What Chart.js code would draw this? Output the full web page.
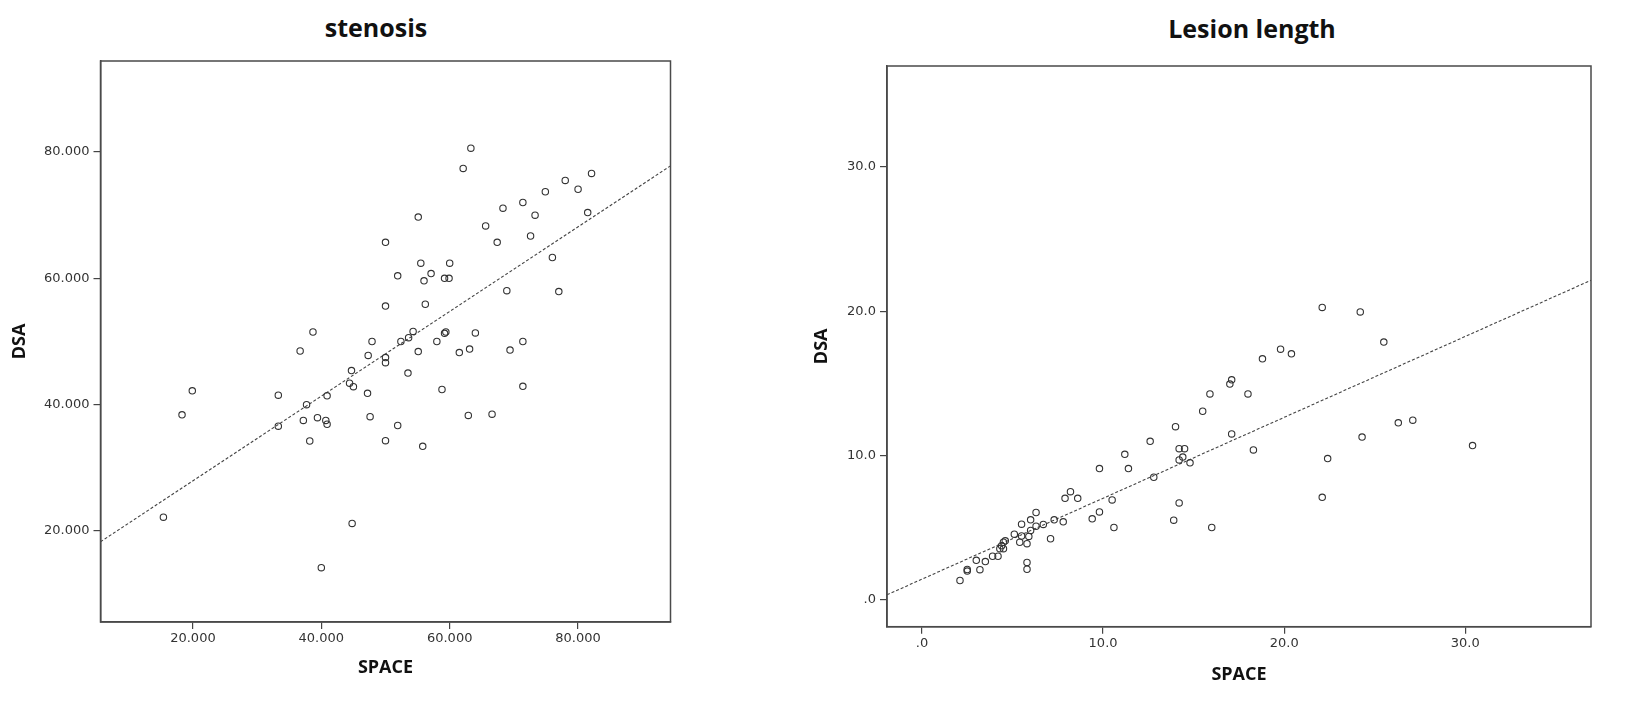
<!DOCTYPE html>
<html>
<head>
<meta charset="utf-8">
<script src="https://cdn.jsdelivr.net/npm/chart.js@4.4.1/dist/chart.umd.min.js"></script>
<style>
  html, body { margin: 0; padding: 0; background: #fff; overflow: hidden; }
  .titulo { position: absolute; font-family: 'Open Sans', sans-serif; font-weight: bold; font-size: 25px; line-height: 30px; color: #111; transform: translateX(-50%); white-space: nowrap; }
  canvas { position: absolute; top: 0; }
</style>
</head>
<body>
<div class="titulo" style="left:376px; top:12px">stenosis</div>
<div class="titulo" style="left:1252px; top:13px">Lesion length</div>
<canvas id="graficoEstenose" width="740" height="724" style="left:0"></canvas>
<canvas id="graficoLesao" width="868" height="724" style="left:760px"></canvas>
<script>
// stenosis: SPACE (x) vs DSA (y)
const estenoseSpace = [63.3, 62.1, 82.1, 78.0, 80.0, 74.9, 71.4, 68.3, 73.3, 81.5, 55.1, 65.6, 67.4, 72.6, 50.0, 76.0, 55.5, 60.0,
  51.9, 57.1, 56.0, 59.2, 59.9, 68.9, 77.0, 50.0, 56.2, 38.7, 59.2, 59.4, 54.3, 53.6, 52.4, 47.9, 58.0, 64.0, 71.4, 36.7,
  55.1, 61.5, 63.1, 69.4, 47.3, 50.0, 50.0, 44.7, 53.5, 44.4, 45.0, 71.4, 19.9, 58.8, 47.2, 33.3, 40.9, 37.7, 18.3, 62.9,
  66.6, 39.4, 37.2, 40.7, 47.6, 33.3, 40.9, 51.9, 38.2, 50.0, 55.8, 15.4, 44.8, 40.0];
const estenoseDsa = [80.6, 77.4, 76.6, 75.5, 74.1, 73.7, 72.0, 71.1, 70.0, 70.4, 69.7, 68.3, 65.7, 66.7, 65.7, 63.3, 62.4, 62.4,
  60.4, 60.75, 59.6, 60.0, 60.0, 58.05, 57.9, 55.6, 55.9, 51.5, 51.3, 51.5, 51.6, 50.6, 50.0, 50.0, 50.0, 51.35, 50.0, 48.5,
  48.4, 48.25, 48.8, 48.65, 47.8, 47.45, 46.65, 45.4, 45.0, 43.4, 42.85, 42.9, 42.2, 42.4, 41.8, 41.5, 41.4, 40.0, 38.4, 38.3,
  38.5, 37.95, 37.5, 37.5, 38.1, 36.6, 36.9, 36.7, 34.25, 34.3, 33.4, 22.2, 21.2, 14.2];
const estenoseRetaX = [5.6, 94.4];
const estenoseRetaY = [18.3, 77.8];
const estenoseTicks = [20, 40, 60, 80];
const estenoseRotulos = ['20.000', '40.000', '60.000', '80.000'];

// Lesion length: SPACE (x) vs DSA (y)
const lesaoSpace = [22.1, 24.2, 25.5, 19.8, 20.4, 18.8, 17.1, 17.0, 15.9, 18.0, 15.5, 14.0, 27.1, 26.3, 17.1, 24.3, 12.6, 30.4,
  14.2, 14.5, 18.3, 11.2, 14.4, 14.2, 22.4, 14.8, 9.8, 11.4, 12.8, 8.2, 7.9, 8.6, 22.1, 10.5, 14.2, 6.3, 9.8, 6.0, 9.4, 7.3,
  7.8, 13.9, 6.7, 5.5, 6.3, 10.6, 16.0, 6.0, 5.1, 5.5, 5.9, 7.1, 4.6, 4.5, 5.4, 5.8, 4.4, 4.3, 4.5, 4.2, 3.9, 3.0, 3.5, 3.2,
  5.8, 5.8, 2.5, 2.5, 2.1];
const lesaoDsa = [20.26, 19.95, 17.86, 17.37, 17.05, 16.7, 15.25, 14.95, 14.27, 14.27, 13.07, 12.0, 12.45, 12.27, 11.5, 11.28,
  10.99, 10.69, 10.48, 10.48, 10.39, 10.09, 9.9, 9.7, 9.79, 9.5, 9.1, 9.1, 8.5, 7.5, 7.04, 7.04, 7.11, 6.93, 6.72, 6.06, 6.1,
  5.55, 5.62, 5.55, 5.41, 5.53, 5.23, 5.25, 5.11, 5.02, 5.02, 4.82, 4.56, 4.43, 4.4, 4.24, 4.1, 4.0, 4.0, 3.9, 3.76, 3.55,
  3.55, 3.03, 3.03, 2.75, 2.66, 2.1, 2.6, 2.13, 2.11, 2.0, 1.35];
const lesaoRetaX = [-1.93, 36.94];
const lesaoRetaY = [0.36, 22.14];
const lesaoTicks = [0, 10, 20, 30];
const lesaoRotulos = ['.0', '10.0', '20.0', '30.0'];

// moldura completa em volta da área do gráfico
const moldura = {
  id: 'moldura',
  afterDatasetsDraw(chart) {
    const { ctx, chartArea: a } = chart;
    ctx.save();
    ctx.strokeStyle = '#4a4a4a';
    ctx.lineWidth = 1.5;
    ctx.strokeRect(a.left, a.top, a.right - a.left, a.bottom - a.top);
    ctx.restore();
  }
};

const fonteTick = { family: "'DejaVu Sans', sans-serif", size: 13 };
const fonteEixo = { family: "'Open Sans', sans-serif", size: 18, weight: 'bold' };

function eixo(min, max, ticks, rotulos, extra) {
  return Object.assign({
    type: 'linear',
    min: min,
    max: max,
    afterBuildTicks: s => { s.ticks = ticks.map(v => ({ value: v })); },
    ticks: {
      callback: v => rotulos[ticks.indexOf(v)],
      font: fonteTick,
      color: '#333',
      maxRotation: 0,
      autoSkip: false
    },
    grid: { drawOnChartArea: false, tickLength: 7, color: '#444', lineWidth: 1.2 },
    border: { display: true, color: '#4a4a4a', width: 1.5 }
  }, extra);
}

function criarGrafico(id, xs, ys, retaX, retaY, faixa, ticks, rotulos, lay) {
  const pontos = xs.map((v, i) => ({ x: v, y: ys[i] }));
  const reta = retaX.map((v, i) => ({ x: v, y: retaY[i] }));
  const ctx = document.getElementById(id).getContext('2d');
  const x = eixo(faixa.xmin, faixa.xmax, ticks, rotulos, {
    afterFit: s => { s.height = lay.alturaX; },
    title: { display: true, text: 'SPACE', font: fonteEixo, color: '#111', padding: { top: 0, bottom: lay.padSpace } }
  });
  x.ticks.padding = 2;
  const y = eixo(faixa.ymin, faixa.ymax, ticks, rotulos, {
    afterFit: s => { s.width = lay.larguraY; },
    title: { display: true, text: 'DSA', font: fonteEixo, color: '#111', padding: { top: lay.padDsa, bottom: 0 } }
  });
  y.ticks.padding = 4;
  return new Chart(ctx, {
    type: 'scatter',
    data: {
      datasets: [{
        data: pontos,
        pointStyle: 'circle',
        pointRadius: 3.2,
        pointBorderWidth: 1.1,
        borderColor: '#333',
        backgroundColor: 'rgba(0,0,0,0)'
      }, {
        data: reta,
        showLine: true,
        borderColor: '#444',
        borderWidth: 1.1,
        borderDash: [3, 2],
        pointRadius: 0,
        fill: false
      }]
    },
    options: {
      responsive: false,
      animation: false,
      devicePixelRatio: 1,
      layout: { padding: { left: 0, right: lay.direita, top: lay.topo, bottom: 0 } },
      plugins: { legend: { display: false }, tooltip: { enabled: false } },
      scales: { x: x, y: y }
    },
    plugins: [moldura]
  });
}

criarGrafico('graficoEstenose', estenoseSpace, estenoseDsa, estenoseRetaX, estenoseRetaY,
  { xmin: 5.6, xmax: 94.4, ymin: 5.6, ymax: 94.4 }, estenoseTicks, estenoseRotulos,
  { larguraY: 100.5, alturaX: 102, direita: 69.5, topo: 61, padDsa: 9, padSpace: 45 });

criarGrafico('graficoLesao', lesaoSpace, lesaoDsa, lesaoRetaX, lesaoRetaY,
  { xmin: -1.93, xmax: 36.94, ymin: -1.85, ymax: 36.98 }, lesaoTicks, lesaoRotulos,
  { larguraY: 127, alturaX: 97.3, direita: 37, topo: 66, padDsa: 51, padSpace: 38.5 });
</script>
</body>
</html>
